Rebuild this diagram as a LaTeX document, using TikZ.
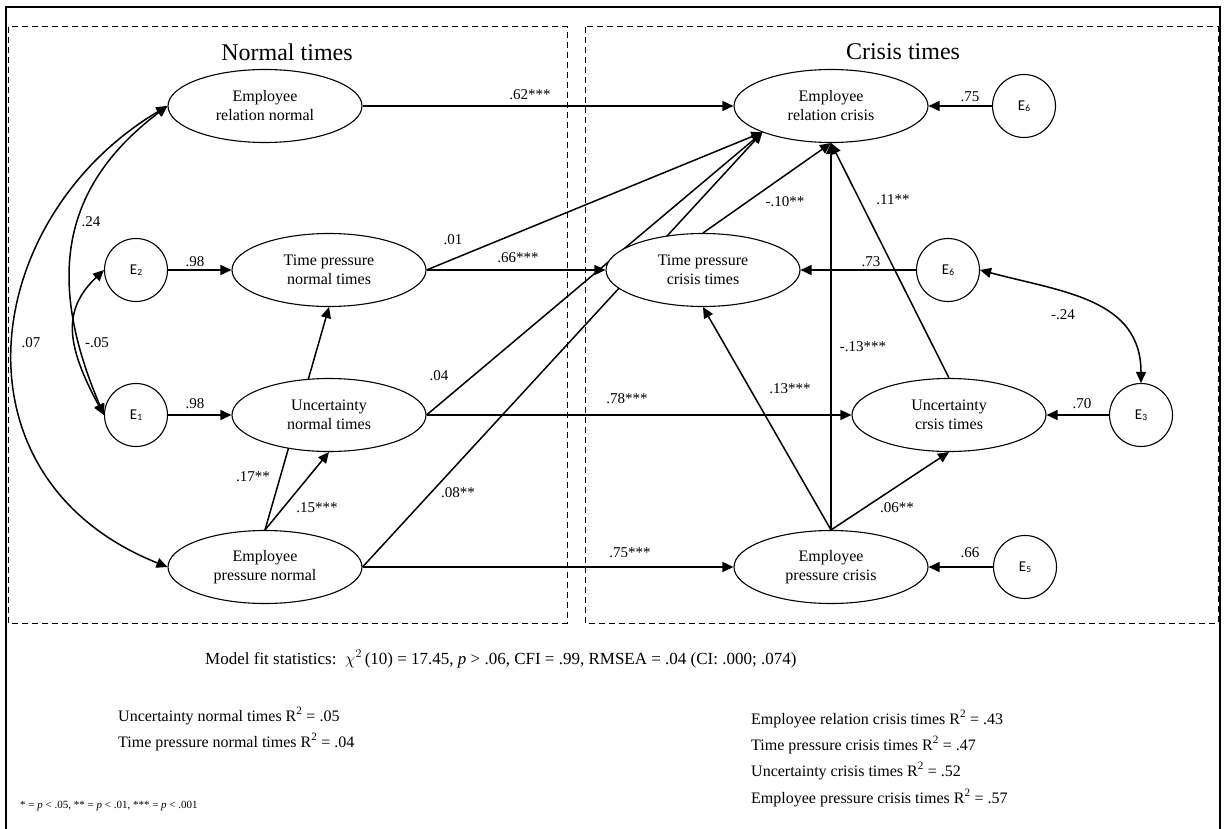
\documentclass[tikz,border=0pt]{standalone}
\usepackage{fontspec}
\setmainfont{Liberation Serif}
\newfontfamily\calib{Carlito}
\usetikzlibrary{shapes.geometric,arrows.meta,backgrounds}
\newcommand{\Esub}[1]{E\raisebox{-1pt}{\fontsize{9.5}{9.5}\selectfont #1}}
\begin{document}
\begin{tikzpicture}[x=1pt,y=1pt,
  ell/.style={ellipse, draw, fill=white, line width=1.1pt, minimum width=194pt, minimum height=73pt, inner sep=0pt, align=center, font=\fontsize{16}{19}\selectfont},
  errc/.style={circle, draw, fill=white, line width=1.1pt, minimum size=63pt, inner sep=0pt, font=\calib\fontsize{15}{15}\selectfont},
  lab/.style={font=\fontsize{15}{15}\selectfont, inner sep=0pt},
  arr/.style={line width=1.5pt, arrows={-Triangle[length=11pt,width=10pt]}},
  dbl/.style={line width=1.5pt, arrows={Triangle[length=11pt,width=10pt]-Triangle[length=11pt,width=10pt]}},
  dbox/.style={line width=1pt, dash pattern=on 6pt off 4pt},
  txt/.style={font=\fontsize{16}{16}\selectfont, inner sep=0pt, anchor=west}
]
\useasboundingbox (0,0) rectangle (1225,-829);
\clip (0,0) rectangle (1225,-829);
% frames
\draw[line width=1.5pt] (6,-7) rectangle (1220,-845);
\draw[dbox] (8,-27) rectangle (567,-623);
\draw[dbox] (585,-27) rectangle (1218,-623);
% titles
\node[font=\fontsize{24}{24}\selectfont] (tn) at (287,-52) {Normal times};
\node[font=\fontsize{24}{24}\selectfont] (tc) at (903,-52) {Crisis times};
% latent variables
\node[ell] (ERN) at (265,-106) {Employee\\relation normal};
\node[ell] (TPN) at (329,-270) {Time pressure\\normal times};
\node[ell] (UN) at (329,-415) {Uncertainty\\normal times};
\node[ell] (EPN) at (265,-567) {Employee\\pressure normal};
\node[ell] (ERC) at (831,-106) {Employee\\relation crisis};
\node[ell] (TPC) at (703,-270) {Time pressure\\crisis times};
\node[ell] (UC) at (949,-415) {Uncertainty\\crsis times};
\node[ell] (EPC) at (831,-567) {Employee\\pressure crisis};
% error terms
\node[errc] (E6a) at (1024,-106) {\Esub{6}};
\node[errc] (E2) at (136,-270) {\Esub{2}};
\node[errc] (E1) at (136,-415) {\Esub{1}};
\node[errc] (E6b) at (948,-270) {\Esub{6}};
\node[errc] (E3) at (1141,-415) {\Esub{3}};
\node[errc] (E5) at (1025,-567) {\Esub{5}};
% connectors
\begin{scope}[on background layer]
\coordinate (ERCin) at (ERC.201);
\draw[arr] (ERN) -- (ERC);
\draw[arr] (E6a) -- (ERC);
\draw[arr] (E2) -- (TPN);
\draw[arr] (E1) -- (UN);
\draw[arr] (EPN.north) -- (TPN.south);
\draw[arr] (EPN.north) -- (UN.south);
\draw[arr] (TPN.east) -- (ERCin);
\draw[arr] (UN.east) -- (ERCin);
\draw[arr] (EPN.east) -- (ERCin);
\draw[arr] (TPN) -- (TPC);
\draw[arr] (TPC.north) -- (ERC.south);
\draw[arr] (EPC.north) -- (ERC.south);
\draw[arr] (UC.north) -- (ERC.south);
\draw[arr] (E6b) -- (TPC);
\draw[arr] (EPC.north) -- (TPC.south);
\draw[arr] (UN) -- (UC);
\draw[arr] (EPC.north) -- (UC.south);
\draw[arr] (E3) -- (UC);
\draw[arr] (EPN) -- (EPC);
\draw[arr] (E5) -- (EPC);
\draw[dbl] (E6b.east) to[out=-15,in=90,looseness=1.1] (E3.north);
\draw[dbl] (ERN.west) .. controls (-21,-218) and (-55,-478) .. (EPN.west);
\draw[dbl] (ERN.west) .. controls (56,-190) and (49,-286) .. (E1.west);
\draw[dbl] (E2.west) .. controls (62,-310) and (66,-345) .. (E1.west);
\end{scope}
% path labels
\node[lab] (l62) at (530,-95) {.62***};
\node[lab] (l75) at (970,-97) {.75};
\node[lab] (l98a) at (195,-262) {.98};
\node[lab] (l98b) at (195,-404) {.98};
\node[lab] (l01) at (453,-240) {.01};
\node[lab] (l66s) at (518,-258) {.66***};
\node[lab] (l10) at (785,-202) {-.10**};
\node[lab] (l11) at (893,-200) {.11**};
\node[lab] (l73) at (871,-262) {.73};
\node[lab] (l24n) at (1063,-315) {-.24};
\node[lab] (l04) at (439,-376) {.04};
\node[lab] (l78) at (627,-399) {.78***};
\node[lab] (l13p) at (790,-389) {.13***};
\node[lab] (l13n) at (863,-347) {-.13***};
\node[lab] (l70) at (1082,-404) {.70};
\node[lab] (l06) at (897,-508) {.06**};
\node[lab] (l08) at (458,-493) {.08**};
\node[lab] (l75s) at (630,-553) {.75***};
\node[lab] (l66) at (970,-553) {.66};
\node[lab] (l17) at (253,-477) {.17**};
\node[lab] (l15) at (317,-508) {.15***};
\node[lab] (l24) at (91,-222) {.24};
\node[lab] (l05) at (97,-343) {-.05};
\node[lab] (l07) at (31,-343) {.07};
% statistics
\node[txt, font=\fontsize{17}{17}\selectfont] (fit) at (205,-659) {Model fit statistics:\ \ $\chi^{2}$\,(10) = 17.45, \textit{p} > .06, CFI = .99, RMSEA = .04 (CI: .000; .074)};
\node[txt] (r1) at (118,-716) {Uncertainty normal times R\textsuperscript{2} = .05};
\node[txt] (r2) at (118,-742) {Time pressure normal times R\textsuperscript{2} = .04};
\node[txt] (r3) at (751,-719) {Employee relation crisis times R\textsuperscript{2} = .43};
\node[txt] (r4) at (751,-745) {Time pressure crisis times R\textsuperscript{2} = .47};
\node[txt] (r5) at (751,-771) {Uncertainty crisis times R\textsuperscript{2} = .52};
\node[txt] (r6) at (751,-798) {Employee pressure crisis times R\textsuperscript{2} = .57};
\node[txt, font=\fontsize{11}{11}\selectfont] (fn) at (20,-806) {* = \textit{p} < .05, ** = \textit{p} < .01, *** = \textit{p} < .001};
\end{tikzpicture}
\end{document}
